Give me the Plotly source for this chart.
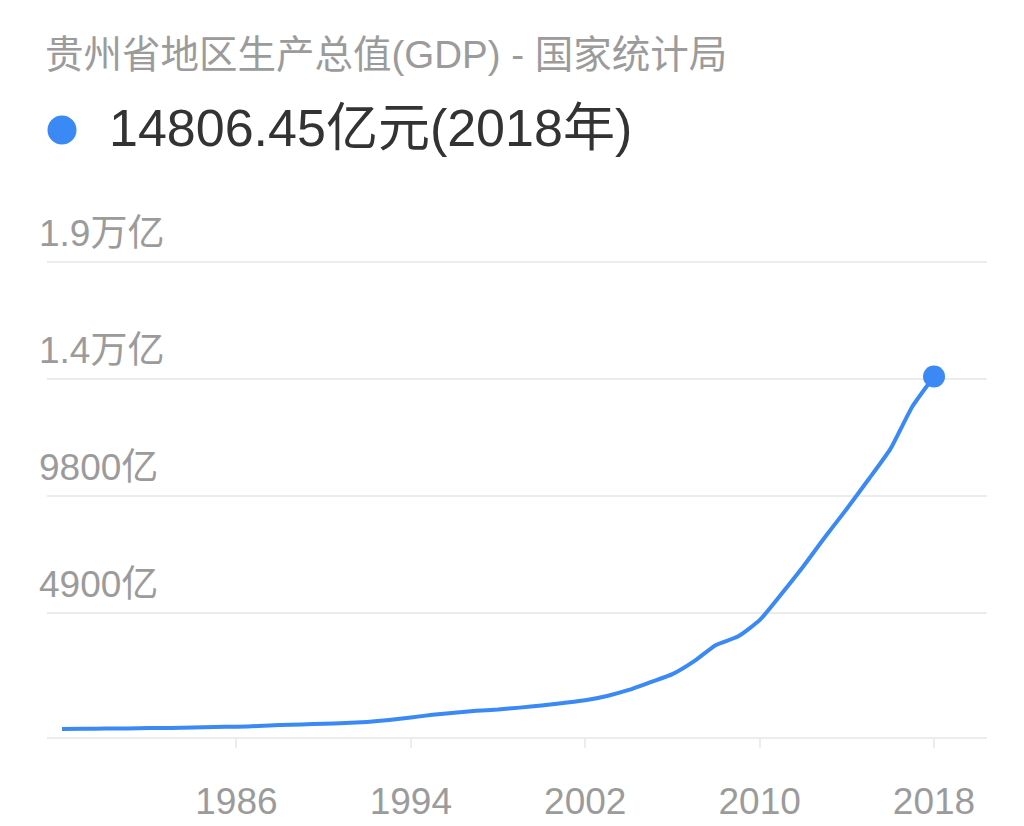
import plotly.graph_objects as go

# ---- data (亿元) ----
years = list(range(1978, 2019))
gdp = [46.62, 55.28, 60.26, 67.89, 79.39, 87.38, 108.27, 123.92, 139.57, 165.50,
       211.79, 235.84, 260.14, 295.90, 339.91, 417.69, 524.46, 636.21, 723.18, 805.79,
       858.39, 937.50, 1029.92, 1133.27, 1243.43, 1426.34, 1677.80, 2005.42, 2338.98, 2884.11,
       3561.56, 3912.68, 4602.16, 5701.84, 6852.20, 8086.86, 9266.39, 10502.56, 11776.73, 13540.83,
       14806.45]
y_tickvals = [4900, 9800, 14700, 19600]
y_ticktext = ["4900亿", "9800亿", "1.4万亿", "1.9万亿"]
x_tickvals = [1986, 1994, 2002, 2010, 2018]
x_ticktext = ["1986", "1994", "2002", "2010", "2018"]
title_text = "贵州省地区生产总值(GDP) - 国家统计局"

BLUE = "#3A89F4"
GRAY_TXT = "#9b9b9b"
GRID = "#ececec"
FONT = "Liberation Sans, Arial, Noto Sans CJK SC, sans-serif"

# page has an 8px body margin; figure sized to fit the viewport
OFF = 8
W, H = 1024 - OFF, 826 - OFF
PLOT_L, PLOT_R, PLOT_T, PLOT_B = 47, 987, 243, 737   # page pixels
ML, MR = PLOT_L - OFF, (OFF + W) - PLOT_R
MT, MB = PLOT_T - OFF, (OFF + H) - PLOT_B


def py2paper(py):
    return (PLOT_B - py) / (PLOT_B - PLOT_T)


fig = go.Figure()
fig.add_trace(go.Scatter(
    x=years, y=gdp, mode="lines",
    line=dict(color=BLUE, width=4, shape="spline", smoothing=0.5),
    hoverinfo="skip", showlegend=False))
fig.add_trace(go.Scatter(
    x=[years[-1]], y=[gdp[-1]], mode="markers",
    marker=dict(color=BLUE, size=22),
    hoverinfo="skip", showlegend=False, cliponaxis=False))

annotations = []
annotations.append(dict(
    xref="paper", yref="paper", x=0, y=py2paper(54), xanchor="left", yanchor="middle",
    text=title_text, showarrow=False, font=dict(family=FONT, size=38.5, color=GRAY_TXT),
    xshift=-4))
annotations.append(dict(
    xref="paper", yref="paper", x=0, y=py2paper(128), xanchor="left", yanchor="middle",
    text=f"{gdp[-1]:.2f}亿元({years[-1]}年)", showarrow=False,
    font=dict(family=FONT, size=52, color="#333333"), xshift=60))
for v, t in zip(y_tickvals, y_ticktext):
    annotations.append(dict(
        xref="paper", yref="y", x=0, y=v, xanchor="left", yanchor="bottom",
        text=t, showarrow=False, font=dict(family=FONT, size=37, color=GRAY_TXT),
        xshift=-10, yshift=6))

shapes = [dict(
    type="circle", xref="paper", yref="paper", xsizemode="pixel", ysizemode="pixel",
    xanchor=0, yanchor=py2paper(130), x0=0.5, x1=29.5, y0=-14.5, y1=14.5,
    fillcolor=BLUE, line=dict(width=0))]

fig.update_layout(
    width=W, height=H,
    margin=dict(l=ML, r=MR, t=MT, b=MB, pad=0, autoexpand=False),
    paper_bgcolor="white", plot_bgcolor="white",
    annotations=annotations, shapes=shapes,
    xaxis=dict(
        range=[1977.31, 2020.43], tickvals=x_tickvals, ticktext=x_ticktext,
        showgrid=False, zeroline=False, showline=True, linecolor=GRID, linewidth=2,
        ticks="outside", ticklen=9, tickwidth=2, tickcolor=GRID,
        tickfont=dict(family=FONT, size=37, color=GRAY_TXT), ticklabelstandoff=22,
        automargin=False, fixedrange=True),
    yaxis=dict(
        range=[-293, 20400], tickvals=y_tickvals, showticklabels=False,
        showgrid=True, gridcolor=GRID, gridwidth=2, zeroline=False, showline=False,
        automargin=False, fixedrange=True),
)

fig.write_html("out.html", config={"displayModeBar": False})
